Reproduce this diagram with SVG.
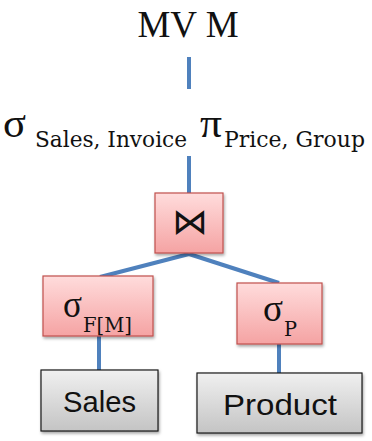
<svg xmlns="http://www.w3.org/2000/svg" width="372" height="441" viewBox="0 0 372 441">
<defs>
<linearGradient id="pink" x1="0" y1="0" x2="0" y2="1">
<stop offset="0" stop-color="#ffdcdc"/>
<stop offset="1" stop-color="#f5a3a3"/>
</linearGradient>
<linearGradient id="gray" x1="0" y1="0" x2="0" y2="1">
<stop offset="0" stop-color="#f0f0f0"/>
<stop offset="1" stop-color="#c4c4c4"/>
</linearGradient>
<filter id="sh" x="-10%" y="-10%" width="125%" height="130%">
<feDropShadow dx="1" dy="2" stdDeviation="1.5" flood-color="#000" flood-opacity="0.35"/>
</filter>
</defs>
<style>
.op{fill:url(#pink);stroke:#c0504d;stroke-width:1.2;filter:url(#sh)}
.rel{fill:url(#gray);stroke:#1a1a1a;stroke-width:1.2;filter:url(#sh)}
.ser{font-family:"Liberation Serif","DejaVu Serif",serif;fill:#111}
.dser{font-family:"DejaVu Serif","Liberation Serif",serif;fill:#111}
.san{font-family:"Liberation Sans","DejaVu Sans",sans-serif;fill:#111}
.ln{stroke:#4f81bd;stroke-width:4;fill:none}
</style>
<g id="connectors">
<line class="ln" x1="189" y1="57" x2="189" y2="89"/>
<line class="ln" x1="189" y1="156" x2="189" y2="194"/>
<line class="ln" x1="189" y1="254" x2="100" y2="277"/>
<line class="ln" x1="189" y1="254" x2="279" y2="283"/>
<line class="ln" x1="99" y1="336" x2="99" y2="370"/>
<line class="ln" x1="279" y1="344" x2="279" y2="373"/>
</g>
<g id="mvm">
<text class="ser" x="188" y="37" font-size="37" text-anchor="middle">MV M</text>
</g>
<g id="proj">
<text class="ser" x="3" y="137" font-size="42" textLength="23" lengthAdjust="spacingAndGlyphs">σ</text>
<text class="dser" x="35" y="147" font-size="22" textLength="152" lengthAdjust="spacingAndGlyphs">Sales, Invoice</text>
<text class="ser" x="200" y="137" font-size="40" textLength="22" lengthAdjust="spacingAndGlyphs">π</text>
<text class="dser" x="224" y="147" font-size="22" textLength="141" lengthAdjust="spacingAndGlyphs">Price, Group</text>
</g>
<g id="join">
<rect class="op" x="155" y="193" width="68" height="60"/>
<text x="190" y="234" font-size="36" text-anchor="middle" font-family="DejaVu Sans, sans-serif" fill="#111">⋈</text>
</g>
<g id="selF">
<rect class="op" x="43" y="276" width="110" height="60"/>
<text class="ser" x="63" y="317" font-size="38" textLength="19" lengthAdjust="spacingAndGlyphs">σ</text>
<text class="dser" x="83" y="332" font-size="21" textLength="49" lengthAdjust="spacingAndGlyphs">F[M]</text>
</g>
<g id="selP">
<rect class="op" x="237" y="283" width="85" height="61"/>
<text class="ser" x="263" y="321" font-size="38" textLength="20" lengthAdjust="spacingAndGlyphs">σ</text>
<text class="dser" x="284" y="336" font-size="21" textLength="13" lengthAdjust="spacingAndGlyphs">P</text>
</g>
<g id="sales">
<rect class="rel" x="41" y="370" width="117" height="61"/>
<text class="san" x="63" y="412" font-size="30" textLength="73" lengthAdjust="spacingAndGlyphs">Sales</text>
</g>
<g id="product">
<rect class="rel" x="197" y="373" width="165" height="60"/>
<text class="san" x="223" y="415" font-size="30" textLength="114" lengthAdjust="spacingAndGlyphs">Product</text>
</g>
</svg>
